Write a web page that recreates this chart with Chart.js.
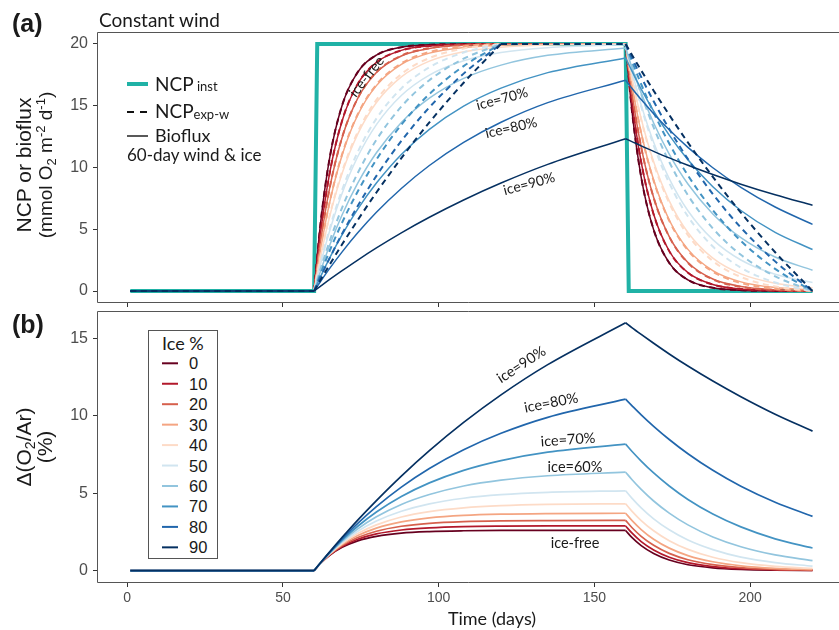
<!DOCTYPE html>
<html>
<head>
<meta charset="utf-8">
<script src="https://cdn.jsdelivr.net/npm/chart.js@4.4.1/dist/chart.umd.min.js"></script>
<style>
  body { margin: 0; background: #fff; }
  #wrap { position: relative; width: 839px; height: 630px; overflow: hidden; }
  #wrap canvas { position: absolute; left: 0; }
  #ca { top: 0; }
  #cb { top: 300px; }
  #txt { position: absolute; left: 0; top: 0; pointer-events: none; }
  .hv { font-family: 'Liberation Sans', Arial, sans-serif; fill: #1a1a1a; }
  .hm { font-family: Lato, 'Open Sans', sans-serif; fill: #1a1a1a; }
</style>
</head>
<body>
<div id="wrap">
  <canvas id="ca" width="839" height="312"></canvas>
  <canvas id="cb" width="839" height="330"></canvas>
  <svg id="txt" width="839" height="630" xmlns="http://www.w3.org/2000/svg">
    <!-- panel letters and title -->
    <text class="hv" x="12" y="32" font-size="25" font-weight="bold">(a)</text>
    <text class="hm" x="99" y="27" font-size="19">Constant wind</text>
    <text class="hv" x="12" y="333" font-size="25" font-weight="bold">(b)</text>

    <!-- y axis titles -->
    <text class="hv" font-size="21" text-anchor="middle" transform="translate(31,165) rotate(-90)">NCP or bioflux</text>
    <text class="hv" font-size="19" text-anchor="middle" transform="translate(52,165) rotate(-90)">(mmol O<tspan font-size="13" dy="4">2</tspan><tspan dy="-4"> m</tspan><tspan font-size="13" dy="-7">-2</tspan><tspan dy="7"> d</tspan><tspan font-size="13" dy="-7">-1</tspan><tspan dy="7">)</tspan></text>
    <text class="hv" font-size="21" text-anchor="middle" transform="translate(31,447) rotate(-90)">Δ(O<tspan font-size="14" dy="4">2</tspan><tspan dy="-4">/Ar)</tspan></text>
    <text class="hv" font-size="21" text-anchor="middle" transform="translate(52,447) rotate(-90)">(%)</text>

    <!-- x axis title -->
    <text class="hm" x="492" y="625" font-size="18" text-anchor="middle">Time (days)</text>

    <!-- panel (a) key -->
    <line x1="127" y1="84" x2="148" y2="84" stroke="#20b2a6" stroke-width="4"/>
    <text class="hm" x="155" y="91" font-size="19">NCP<tspan font-size="13"> inst</tspan></text>
    <line x1="127" y1="112" x2="148" y2="112" stroke="#111" stroke-width="2.2" stroke-dasharray="7,6"/>
    <text class="hm" x="155" y="118" font-size="19">NCP<tspan font-size="13" dy="1">exp-w</tspan></text>
    <line x1="127" y1="136" x2="148" y2="136" stroke="#222" stroke-width="1.5"/>
    <text class="hm" x="155" y="142" font-size="18">Bioflux</text>
    <text class="hm" x="127" y="161" font-size="17">60-day wind &amp; ice</text>

    <!-- panel (a) curve labels -->
    <g class="hm" font-size="14" text-anchor="middle" dominant-baseline="central">
      <text transform="translate(366,76) rotate(-52)">ice-free</text>
      <text transform="translate(502,98) rotate(-15)">ice=70%</text>
      <text transform="translate(511,127) rotate(-13)">ice=80%</text>
      <text transform="translate(529,183) rotate(-15)">ice=90%</text>
    </g>

    <!-- panel (b) curve labels -->
    <g class="hm" font-size="14.5" text-anchor="middle" dominant-baseline="central">
      <text transform="translate(521,364) rotate(-33)">ice=90%</text>
      <text transform="translate(551,402) rotate(-11)">ice=80%</text>
      <text transform="translate(568,439) rotate(-4)">ice=70%</text>
      <text transform="translate(575,466)">ice=60%</text>
      <text transform="translate(575,542)">ice-free</text>
    </g>

    <!-- panel (b) ice key -->
    <rect x="148.5" y="330.5" width="69" height="228" fill="#fff" stroke="#555" stroke-width="1"/>
    <text class="hm" x="162" y="350" font-size="18">Ice %</text>
    <g id="iceKey"></g>
  </svg>
</div>
<script>
// ice fractions and their RdBu colours
const iceLevels = [0, 10, 20, 30, 40, 50, 60, 70, 80, 90];
const iceColors = ['#67001f', '#b2182b', '#d6604d', '#f4a582', '#fddbc7', '#d1e5f0', '#92c5de', '#4393c3', '#2166ac', '#053061'];

// sample days shared by every series below
const days = [1, 60, 62, 65, 69, 74, 80, 88, 97, 108, 120, 135, 160, 162, 165, 169, 174, 180, 188, 197, 208, 220];

// instantaneous NCP (step)
const ncpDays = [1, 60, 61, 160, 161, 220];
const ncpInst = [0, 0, 20, 20, 0, 0];

// bioflux, mmol O2 m-2 d-1
const bioflux0  = [0, 0, 5.33, 10.79, 15.04, 17.72, 19.10, 19.74, 19.94, 19.99, 20.00, 20.00, 20.00, 14.67, 9.21, 4.96, 2.28, 0.90, 0.26, 0.06, 0.01, 0.00];
const bioflux10 = [0, 0, 4.58, 9.56, 13.79, 16.76, 18.51, 19.48, 19.84, 19.96, 19.99, 20.00, 20.00, 15.42, 10.44, 6.21, 3.24, 1.49, 0.53, 0.16, 0.04, 0.01];
const bioflux20 = [0, 0, 3.89, 8.35, 12.43, 15.59, 17.69, 19.03, 19.63, 19.89, 19.97, 19.99, 20.00, 16.11, 11.65, 7.57, 4.41, 2.31, 0.97, 0.37, 0.11, 0.03];
const bioflux30 = [0, 0, 3.26, 7.18, 11.02, 14.25, 16.63, 18.35, 19.26, 19.72, 19.90, 19.97, 20.00, 16.74, 12.82, 8.98, 5.75, 3.37, 1.65, 0.74, 0.28, 0.10];
const bioflux40 = [0, 0, 2.68, 6.05, 9.54, 12.70, 15.26, 17.34, 18.61, 19.37, 19.73, 19.91, 19.99, 17.31, 13.95, 10.46, 7.30, 4.74, 2.66, 1.39, 0.63, 0.27];
const bioflux50 = [0, 0, 2.12, 4.88, 7.92, 10.87, 13.47, 15.83, 17.48, 18.64, 19.31, 19.70, 19.93, 17.82, 15.06, 12.04, 9.10, 6.50, 4.16, 2.51, 1.36, 0.69];
const bioflux60 = [0, 0, 1.57, 3.71, 6.17, 8.73, 11.19, 13.65, 15.61, 17.21, 18.29, 19.08, 19.67, 18.12, 16.02, 13.60, 11.08, 8.66, 6.24, 4.32, 2.75, 1.68];
const bioflux70 = [0, 0, 1.12, 2.68, 4.56, 6.63, 8.74, 11.06, 13.09, 14.97, 16.43, 17.68, 18.87, 17.82, 16.34, 14.57, 12.62, 10.62, 8.44, 6.52, 4.75, 3.36];
const bioflux80 = [0, 0, 0.75, 1.83, 3.17, 4.71, 6.37, 8.30, 10.16, 12.03, 13.66, 15.25, 17.06, 16.42, 15.50, 14.36, 13.05, 11.63, 9.98, 8.40, 6.80, 5.40];
const bioflux90 = [0, 0, 0.38, 0.94, 1.65, 2.51, 3.49, 4.71, 5.97, 7.37, 8.74, 10.25, 12.33, 12.10, 11.75, 11.31, 10.78, 10.18, 9.43, 8.65, 7.79, 6.94];

// NCP from the 60-day exponentially weighted method
const ncpExp0  = [0, 0, 5.33, 10.79, 15.04, 17.72, 19.10, 19.74, 19.94, 19.99, 20, 20, 20, 14.67, 9.21, 4.96, 2.28, 0.90, 0.26, 0.06, 0.01, 0];
const ncpExp10 = [0, 0, 4.58, 9.56, 13.80, 16.77, 18.52, 19.48, 19.84, 19.96, 20, 20, 20, 15.41, 10.43, 6.20, 3.23, 1.48, 0.52, 0.16, 0.03, 0];
const ncpExp20 = [0, 0, 3.89, 8.36, 12.45, 15.61, 17.72, 19.06, 19.66, 19.92, 20, 20, 20, 16.11, 11.64, 7.55, 4.39, 2.28, 0.94, 0.34, 0.08, 0];
const ncpExp30 = [0, 0, 3.28, 7.22, 11.08, 14.31, 16.71, 18.43, 19.35, 19.82, 20, 20, 20, 16.72, 12.78, 8.92, 5.69, 3.29, 1.57, 0.65, 0.18, 0];
const ncpExp40 = [0, 0, 2.72, 6.13, 9.67, 12.87, 15.47, 17.57, 18.86, 19.63, 20, 20, 20, 17.28, 13.87, 10.33, 7.13, 4.53, 2.43, 1.14, 0.37, 0];
const ncpExp50 = [0, 0, 2.20, 5.06, 8.20, 11.26, 13.96, 16.40, 18.11, 19.31, 20, 20, 20, 17.80, 14.94, 11.80, 8.74, 6.04, 3.60, 1.89, 0.69, 0];
const ncpExp60 = [0, 0, 1.72, 4.05, 6.75, 9.55, 12.24, 14.93, 17.07, 18.81, 20, 20, 20, 18.28, 15.95, 13.25, 10.45, 7.76, 5.07, 2.93, 1.19, 0];
const ncpExp70 = [0, 0, 1.36, 3.26, 5.55, 8.06, 10.64, 13.46, 15.94, 18.21, 20, 20, 20, 18.64, 16.74, 14.45, 11.94, 9.36, 6.55, 4.06, 1.79, 0];
const ncpExp80 = [0, 0, 1.10, 2.67, 4.64, 6.89, 9.32, 12.15, 14.87, 17.60, 20, 20, 20, 18.90, 17.33, 15.36, 13.11, 10.68, 7.85, 5.13, 2.40, 0];
const ncpExp90 = [0, 0, 0.87, 2.14, 3.78, 5.74, 7.98, 10.76, 13.65, 16.86, 20, 20, 20, 19.13, 17.86, 16.22, 14.26, 12.02, 9.24, 6.35, 3.14, 0];

// Δ(O2/Ar), %
const o2ar0  = [0, 0, 0.45, 0.99, 1.50, 1.92, 2.21, 2.42, 2.52, 2.57, 2.59, 2.59, 2.59, 2.14, 1.61, 1.10, 0.68, 0.38, 0.18, 0.08, 0.03, 0.01];
const o2ar10 = [0, 0, 0.46, 1.01, 1.56, 2.02, 2.37, 2.62, 2.76, 2.84, 2.87, 2.88, 2.88, 2.43, 1.87, 1.33, 0.86, 0.51, 0.26, 0.12, 0.05, 0.02];
const o2ar20 = [0, 0, 0.46, 1.03, 1.62, 2.13, 2.54, 2.86, 3.05, 3.16, 3.21, 3.23, 3.24, 2.78, 2.21, 1.63, 1.11, 0.70, 0.38, 0.19, 0.08, 0.03];
const o2ar30 = [0, 0, 0.47, 1.06, 1.68, 2.26, 2.74, 3.14, 3.40, 3.56, 3.64, 3.68, 3.70, 3.24, 2.65, 2.02, 1.45, 0.97, 0.57, 0.31, 0.15, 0.07];
const o2ar40 = [0, 0, 0.47, 1.08, 1.75, 2.39, 2.95, 3.46, 3.81, 4.05, 4.19, 4.27, 4.31, 3.84, 3.23, 2.57, 1.93, 1.37, 0.86, 0.51, 0.27, 0.14];
const o2ar50 = [0, 0, 0.47, 1.11, 1.82, 2.54, 3.20, 3.83, 4.31, 4.67, 4.90, 5.05, 5.15, 4.68, 4.05, 3.34, 2.63, 1.97, 1.35, 0.87, 0.52, 0.29];
const o2ar60 = [0, 0, 0.48, 1.13, 1.89, 2.69, 3.47, 4.27, 4.91, 5.46, 5.84, 6.12, 6.35, 5.88, 5.24, 4.49, 3.71, 2.95, 2.17, 1.54, 1.01, 0.64];
const o2ar70 = [0, 0, 0.48, 1.16, 1.97, 2.86, 3.78, 4.78, 5.66, 6.47, 7.10, 7.64, 8.16, 7.70, 7.07, 6.30, 5.46, 4.59, 3.65, 2.82, 2.05, 1.46];
const o2ar80 = [0, 0, 0.49, 1.19, 2.05, 3.05, 4.13, 5.39, 6.59, 7.80, 8.86, 9.89, 11.06, 10.65, 10.05, 9.31, 8.46, 7.54, 6.47, 5.44, 4.41, 3.50];
const o2ar90 = [0, 0, 0.49, 1.21, 2.14, 3.26, 4.52, 6.10, 7.74, 9.56, 11.34, 13.29, 15.99, 15.68, 15.24, 14.67, 13.98, 13.20, 12.23, 11.22, 10.09, 9.00];

const timeTicks = [0, 50, 100, 150, 200];
const fluxTicks = [0, 5, 10, 15, 20];
const o2arTicks = [0, 5, 10, 15];

const bioflux = [bioflux0, bioflux10, bioflux20, bioflux30, bioflux40, bioflux50, bioflux60, bioflux70, bioflux80, bioflux90];
const ncpExp = [ncpExp0, ncpExp10, ncpExp20, ncpExp30, ncpExp40, ncpExp50, ncpExp60, ncpExp70, ncpExp80, ncpExp90];
const o2ar = [o2ar0, o2ar10, o2ar20, o2ar30, o2ar40, o2ar50, o2ar60, o2ar70, o2ar80, o2ar90];

// split a series at the forcing switches so the smooth curve keeps its corners
function segmentsOf(values, breaks) {
    const segs = [];
    let cur = [];
    days.forEach((d, i) => {
        cur.push({ x: d, y: values[i] });
        if (breaks.includes(d) && cur.length > 1) {
            segs.push(cur);
            cur = [{ x: d, y: values[i] }];
        }
    });
    if (cur.length > 1) segs.push(cur);
    return segs;
}

function curveSets(values, color, breaks, extra) {
    return segmentsOf(values, breaks).map(pts => Object.assign({
        data: pts,
        borderColor: color,
        pointRadius: 0,
        fill: false,
        cubicInterpolationMode: 'monotone'
    }, extra));
}

// first entry is painted first (at the bottom)
function stackOrder(list) {
    list.forEach((ds, i) => { ds.order = list.length - i; });
    return list;
}

const panelBorder = {
    id: 'panelBorder',
    afterDraw(chart) {
        const { ctx, chartArea: a } = chart;
        ctx.save();
        ctx.strokeStyle = '#555';
        ctx.lineWidth = 1;
        ctx.beginPath();
        ctx.moveTo(a.right, a.top + 0.5);
        ctx.lineTo(a.left + 0.5, a.top + 0.5);
        ctx.lineTo(a.left + 0.5, a.bottom - 0.5);
        ctx.lineTo(a.right, a.bottom - 0.5);
        ctx.stroke();
        ctx.restore();
    }
};

// keep the plot box fixed: no extra room reserved for edge labels
function pinScale(s, w, h) {
    if (w !== null) s.width = w;
    if (h !== null) s.height = h;
    s.paddingTop = 0;
    s.paddingBottom = 0;
    s.paddingLeft = 0;
    s.paddingRight = 0;
}

const tickFont = { family: "'Liberation Sans', Arial, sans-serif", size: 16 };

function xScale(showLabels, height) {
    return {
        type: 'linear',
        min: -9.7,
        max: 228.5,
        afterBuildTicks: s => { s.ticks = timeTicks.map(v => ({ value: v })); },
        ticks: { display: showLabels, color: '#4d4d4d', font: { family: tickFont.family, size: 14 }, padding: 3, maxRotation: 0 },
        grid: { drawOnChartArea: false, tickLength: 4, color: '#333' },
        border: { display: false },
        afterFit: s => pinScale(s, null, height)
    };
}

function yScale(min, max, ticks) {
    return {
        type: 'linear',
        min: min,
        max: max,
        afterBuildTicks: s => { s.ticks = ticks.map(v => ({ value: v })); },
        ticks: { color: '#4d4d4d', font: tickFont, padding: 5 },
        grid: { drawOnChartArea: false, tickLength: 4, color: '#333' },
        border: { display: false },
        afterFit: s => pinScale(s, 97, null)
    };
}

const baseOptions = {
    responsive: false,
    animation: false,
    devicePixelRatio: 1,
    events: [],
    plugins: { legend: { display: false }, tooltip: { enabled: false } }
};

// ---- panel (a): NCP and bioflux ----
const setsA = [{
    data: ncpDays.map((d, i) => ({ x: d, y: ncpInst[i] })),
    borderColor: '#20b2a6',
    borderWidth: 4,
    pointRadius: 0,
    tension: 0,
    fill: false
}];
iceLevels.forEach((ice, i) => {
    setsA.push(...curveSets(ncpExp[i], iceColors[i], [60, 120, 160], { borderWidth: 2, borderDash: [6, 4.5] }));
    setsA.push(...curveSets(bioflux[i], iceColors[i], [60, 160], { borderWidth: 1.5 }));
});

new Chart(document.getElementById('ca'), {
    type: 'line',
    data: { datasets: stackOrder(setsA) },
    options: Object.assign({}, baseOptions, {
        layout: { padding: { top: 32, right: 0, left: 0, bottom: 0 }, autoPadding: false },
        scales: { x: xScale(false, 9), y: yScale(-0.97, 20.97, fluxTicks) }
    }),
    plugins: [panelBorder]
});

// ---- panel (b): Δ(O2/Ar) ----
const setsB = [];
iceLevels.forEach((ice, i) => {
    setsB.push(...curveSets(o2ar[i], iceColors[i], [60, 160], { borderWidth: 1.7 }));
});

new Chart(document.getElementById('cb'), {
    type: 'line',
    data: { datasets: stackOrder(setsB) },
    options: Object.assign({}, baseOptions, {
        layout: { padding: { top: 11, right: 0, left: 0, bottom: 0 }, autoPadding: false },
        scales: { x: xScale(true, 47), y: yScale(-0.8, 16.75, o2arTicks) }
    }),
    plugins: [panelBorder]
});

// ice key entries
const key = document.getElementById('iceKey');
const NS = 'http://www.w3.org/2000/svg';
iceLevels.forEach((ice, i) => {
    const cy = 363.3 + i * 20.45;
    const ln = document.createElementNS(NS, 'line');
    ln.setAttribute('x1', 162); ln.setAttribute('x2', 178);
    ln.setAttribute('y1', cy); ln.setAttribute('y2', cy);
    ln.setAttribute('stroke', iceColors[i]);
    ln.setAttribute('stroke-width', 2);
    key.appendChild(ln);
    const tx = document.createElementNS(NS, 'text');
    tx.setAttribute('x', 189);
    tx.setAttribute('y', cy + 6);
    tx.setAttribute('class', 'hv');
    tx.setAttribute('font-size', 16.5);
    tx.textContent = String(ice);
    key.appendChild(tx);
});
</script>
</body>
</html>
